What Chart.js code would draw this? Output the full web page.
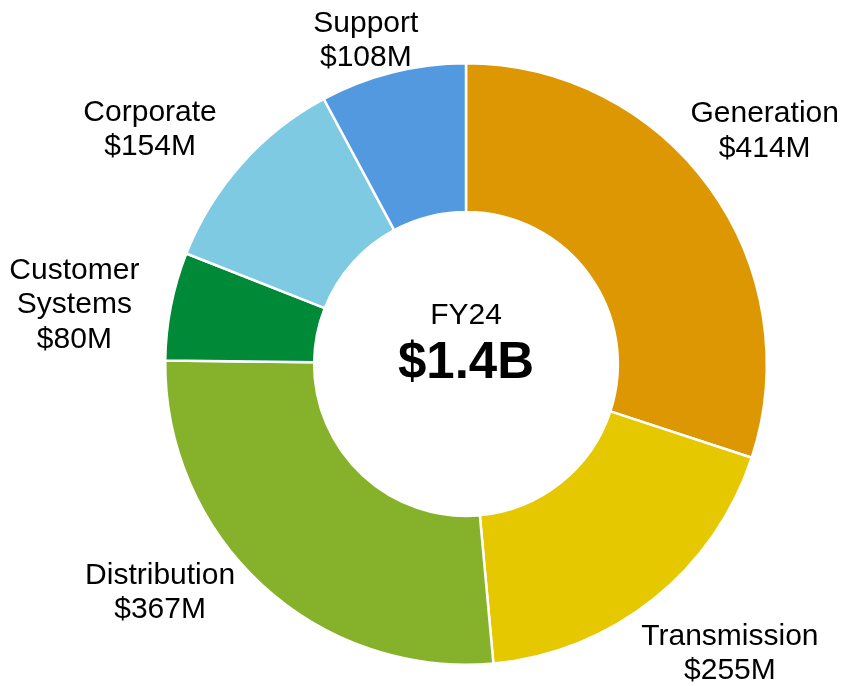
<!DOCTYPE html>
<html>
<head>
<meta charset="utf-8">
<script src="https://cdn.jsdelivr.net/npm/chart.js@4.4.1/dist/chart.umd.min.js"></script>
<style>
  html, body { margin: 0; padding: 0; background: #ffffff; }
  #wrap { width: 846px; height: 686px; position: relative; }
</style>
</head>
<body>
<div id="wrap"><canvas id="c" width="846" height="686"></canvas></div>
<script>
// ---- Data ----
const categories = ["Generation", "Transmission", "Distribution", "Customer Systems", "Corporate", "Support"];
const valuesM = [414, 255, 367, 80, 154, 108];
const labelLines = [["Generation"], ["Transmission"], ["Distribution"], ["Customer", "Systems"], ["Corporate"], ["Support"]];
const centerTitle = "FY24";
const centerTotal = "$1.4B";

// ---- Styling ----
const colors = ["#DD9703", "#E5C800", "#86B22B", "#008A37", "#7ECAE3", "#5399E0"];
// label placement relative to each arc: angle nudge (deg) from mid-angle, distance as factor of outer radius
const labelNudgeDeg = [-2.0, -3.8, 10.5, -2.5, -5.1, -3.1];
const labelRadiusFactor = [1.259, 1.303, 1.270, 1.317, 1.308, 1.126];

const FONT = "'Liberation Sans', Arial, sans-serif";

const labelPlugin = {
  id: 'outerLabels',
  afterDraw(chart) {
    const ctx = chart.ctx;
    const meta = chart.getDatasetMeta(0);
    ctx.save();
    ctx.fillStyle = '#000000';
    ctx.textAlign = 'center';
    ctx.textBaseline = 'middle';
    ctx.font = "30px " + FONT;
    const lineH = 34.5;
    let cx = 0, cy = 0;
    meta.data.forEach((arc, i) => {
      const p = arc.getProps(['x', 'y', 'startAngle', 'endAngle', 'outerRadius'], true);
      cx = p.x; cy = p.y;
      const mid = (p.startAngle + p.endAngle) / 2 + labelNudgeDeg[i] * Math.PI / 180;
      const r = p.outerRadius * labelRadiusFactor[i];
      const lx = p.x + Math.cos(mid) * r;
      const ly = p.y + Math.sin(mid) * r;
      const lines = labelLines[i].concat(["$" + valuesM[i] + "M"]);
      const top = ly - (lines.length - 1) * lineH / 2;
      lines.forEach((t, k) => ctx.fillText(t, lx, top + k * lineH));
    });
    // center text
    ctx.font = "30px " + FONT;
    ctx.fillText(centerTitle, cx, cy - 48);
    ctx.font = "bold 51px " + FONT;
    ctx.fillText(centerTotal, cx, cy);
    ctx.restore();
  }
};

new Chart(document.getElementById('c'), {
  type: 'doughnut',
  data: {
    labels: categories,
    datasets: [{
      data: valuesM,
      backgroundColor: colors,
      borderColor: '#ffffff',
      borderWidth: 2.5,
      hoverOffset: 0
    }]
  },
  options: {
    responsive: false,
    animation: false,
    cutout: '50.5%',
    rotation: 0,
    layout: { padding: { left: 164, right: 78, top: 62, bottom: 20 } },
    plugins: {
      legend: { display: false },
      tooltip: { enabled: false }
    }
  },
  plugins: [labelPlugin]
});
</script>
</body>
</html>
